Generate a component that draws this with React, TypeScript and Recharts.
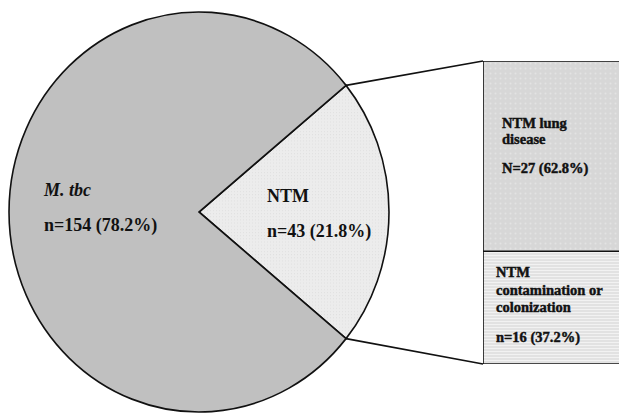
import { PieChart, Pie, Cell, BarChart, Bar, XAxis, YAxis, LabelList } from 'recharts'

// main split
const GROUPS = ['NTM', 'M. tbc']
const COUNTS = [43, 154]
const SHARES = ['21.8%', '78.2%']

// breakdown of the NTM slice (bottom of the stack first)
const NTM_GROUPS = ['NTM\ncontamination or\ncolonization', 'NTM lung\ndisease']
const NTM_COUNTS = [16, 27]
const NTM_SHARES = ['37.2%', '62.8%']
const NTM_PREFIX = ['n', 'N']

const W = 619
const H = 413
const CX = 199
const CY = 212
const RX = 190
const RY = 200
const BOX_X = 483
const BOX_Y = 61
const BOX_H = 303

const total = COUNTS.reduce((s, v) => s + v, 0)
const half = (COUNTS[0] / total) * 180
const START = -half

const pieData = GROUPS.map((g, i) => ({ name: g, value: COUNTS[i], share: SHARES[i] }))
const PIE_FILL: Record<string, string> = { NTM: 'url(#ntmFill)', 'M. tbc': '#c0c0c0' }
const PIE_LABEL: Record<string, { dx: number; dy: number; italic: boolean }> = {
  'M. tbc': { dx: -155, dy: -16, italic: true },
  NTM: { dx: 68, dy: -10, italic: false },
}

const barRow: Record<string, string | number> = { name: 'NTM' }
NTM_COUNTS.forEach((v, i) => { barRow['s' + i] = v })
const barData = [barRow]

const ink = '#111'
const serif = "'Liberation Serif', serif"

function PieLabel(props: any) {
  const cfg = PIE_LABEL[props.name]
  if (!cfg) return null
  const x = CX + cfg.dx
  const y = CY + cfg.dy
  const n = props.value
  return (
    <g>
      <text x={x} y={y} fontSize={18} fontWeight="bold" fontStyle={cfg.italic ? 'italic' : 'normal'} fill={ink} fontFamily={serif}>
        {props.name}
      </text>
      <text x={x} y={y + 35} fontSize={18} fontWeight="bold" fill={ink} fontFamily={serif}>
        {`n=${n} (${props.payload.share})`}
      </text>
    </g>
  )
}

function boxLabel(i: number) {
  return (p: any) => {
    const lines = NTM_GROUPS[i].split('\n')
    const isTop = i === 1
    const x = p.x + (isTop ? 19 : 13)
    const base = isTop ? p.y + 67 : p.y + p.height - 87
    const step = isTop ? 15.5 : 17.5
    const statY = isTop ? p.y + 112 : p.y + p.height - 22
    const t = { fontFamily: serif, fontWeight: 700, fontSize: 14.5, fill: ink, stroke: ink, strokeWidth: 0.45 }
    return (
      <g>
        {lines.map((l, k) => (
          <text key={k} x={x} y={base + k * step} style={t}>{l}</text>
        ))}
        <text x={x} y={statY} style={t}>{`${NTM_PREFIX[i]}=${NTM_COUNTS[i]} (${NTM_SHARES[i]})`}</text>
      </g>
    )
  }
}

export default function App() {
  const a = (half * Math.PI) / 180
  const ex = CX + RX * Math.cos(a)
  const eyTop = CY - RY * Math.sin(a)
  const eyBot = CY + RY * Math.sin(a)

  return (
    <div style={{ position: 'relative', width: W, height: H, overflow: 'hidden', background: '#fff' }}>
      <style>{'body{margin:0}'}</style>
      <svg width={0} height={0} style={{ position: 'absolute' }}>
        <defs>
          <pattern id="ntmFill" width={3} height={3} patternUnits="userSpaceOnUse">
            <rect width={3} height={3} fill="#ececec" />
            <rect width={1} height={1} fill="#e0e0e0" />
          </pattern>
          <pattern id="dots" width={5} height={5} patternUnits="userSpaceOnUse">
            <rect width={5} height={5} fill="#d7d7d7" />
            <circle cx={2.5} cy={2.5} r={1} fill="#e3e3e3" />
          </pattern>
          <pattern id="stripes" width={4} height={3} patternUnits="userSpaceOnUse">
            <rect width={4} height={3} fill="#e2e2e2" />
            <rect y={2} width={4} height={1} fill="#f2f2f2" />
          </pattern>
        </defs>
      </svg>

      {/* sectors, stretched a little vertically like the original ellipse */}
      <div style={{ position: 'absolute', left: 0, top: 0, transform: `scaleY(${RY / RX})`, transformOrigin: `${CX}px ${CY}px` }}>
        <PieChart width={W} height={H} margin={{ top: 0, right: 0, bottom: 0, left: 0 }}>
          <Pie
            data={pieData}
            dataKey="value"
            cx={CX}
            cy={CY}
            outerRadius={RX}
            startAngle={START}
            endAngle={START + 360}
            stroke={ink}
            strokeWidth={1.6}
            isAnimationActive={false}
          >
            {pieData.map((d, i) => (
              <Cell key={`cell-${i}`} fill={PIE_FILL[d.name]} stroke={ink} strokeWidth={1.6} />
            ))}
          </Pie>
        </PieChart>
      </div>

      {/* labels, unstretched; sectors invisible */}
      <div style={{ position: 'absolute', left: 0, top: 0 }}>
        <PieChart width={W} height={H} margin={{ top: 0, right: 0, bottom: 0, left: 0 }}>
          <Pie
            data={pieData}
            dataKey="value"
            cx={CX}
            cy={CY}
            outerRadius={RX}
            startAngle={START}
            endAngle={START + 360}
            label={PieLabel}
            labelLine={false}
            isAnimationActive={false}
          >
            {pieData.map((_, i) => (
              <Cell key={`ghost-${i}`} fill="transparent" stroke="transparent" strokeWidth={0} />
            ))}
          </Pie>
        </PieChart>
      </div>

      <svg width={W} height={H} style={{ position: 'absolute', left: 0, top: 0 }}>
        <line x1={ex} y1={eyTop} x2={BOX_X} y2={BOX_Y} stroke={ink} strokeWidth={1.6} />
        <line x1={ex} y1={eyBot} x2={BOX_X} y2={BOX_Y + BOX_H} stroke={ink} strokeWidth={1.6} />
      </svg>

      <div style={{ position: 'absolute', left: BOX_X, top: BOX_Y }}>
        <BarChart width={200} height={BOX_H} data={barData} margin={{ top: 0, right: 0, bottom: 0, left: 0 }} barCategoryGap={0}>
          <XAxis dataKey="name" hide />
          <YAxis hide domain={[0, total - COUNTS[1]]} />
          {NTM_COUNTS.map((_, i) => (
            <Bar
              key={i}
              dataKey={'s' + i}
              stackId="ntm"
              fill={i === 0 ? 'url(#stripes)' : 'url(#dots)'}
              stroke={ink}
              strokeWidth={1.6}
              isAnimationActive={false}
            >
              <LabelList dataKey={'s' + i} content={boxLabel(i)} />
            </Bar>
          ))}
        </BarChart>
      </div>
    </div>
  )
}
